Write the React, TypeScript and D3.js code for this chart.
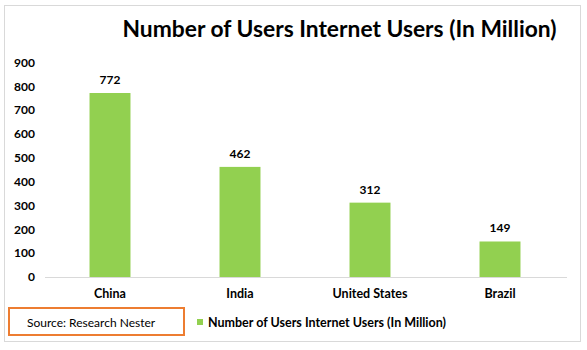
import React from "react";
import * as d3 from "d3";

const categories = ["China", "India", "United States", "Brazil"];
const values = [772, 462, 312, 149];
const yTicks = [0, 100, 200, 300, 400, 500, 600, 700, 800, 900];
const title = "Number of Users Internet Users (In Million)";
const seriesName = "Number of Users Internet Users (In Million)";
const source = "Source: Research Nester";

export default function App() {
  const W = 587, H = 350;
  const font = "Lato, 'Open Sans', sans-serif";
  const x = d3.scaleBand<string>().domain(categories).range([45, 565]).paddingInner(0.685).paddingOuter(0.3425);
  const y = d3.scaleLinear().domain([0, 900]).range([277, 62.5]);
  return (
    <svg width={W} height={H} style={{ position: "absolute", left: 0, top: 0 }} fontFamily={font}>
      <rect x={0} y={0} width={W} height={H} fill="#fff" />
      <rect x={4.5} y={5.5} width={576} height={336} fill="#fff" stroke="#d9d9d9" />
      <text x={339.5} y={37} textAnchor="middle" fontSize={22.8} fontWeight="bold" fill="#000">{title}</text>
      {yTicks.map(t => (
        <text key={t} x={35} y={y(t)} dy="0.35em" textAnchor="end" fontSize={12} fontWeight="bold" fill="#000">{t}</text>
      ))}
      <line x1={45} x2={567} y1={y(0) + 0.5} y2={y(0) + 0.5} stroke="#d9d9d9" />
      {categories.map((c, i) => (
        <g key={c}>
          <rect x={x(c)} y={y(values[i])} width={x.bandwidth()} height={y(0) - y(values[i])} fill="#92D050" />
          <text x={(x(c) as number) + x.bandwidth() / 2} y={y(values[i]) - 9} textAnchor="middle" fontSize={12} fontWeight="bold" fill="#000">{values[i]}</text>
          <text x={(x(c) as number) + x.bandwidth() / 2} y={y(0) + 21} textAnchor="middle" fontSize={12.5} fontWeight="bold" fill="#000">{c}</text>
        </g>
      ))}
      <rect x={9} y={308} width={175} height={27} fill="#fff" stroke="#ED7D31" strokeWidth={2} />
      <text x={27} y={327} fontSize={12} fill="#000">{source}</text>
      <rect x={197} y={319} width={6} height={6} fill="#92D050" />
      <text x={208} y={327} fontSize={12.5} fontWeight="bold" fill="#000">{seriesName}</text>
    </svg>
  );
}
